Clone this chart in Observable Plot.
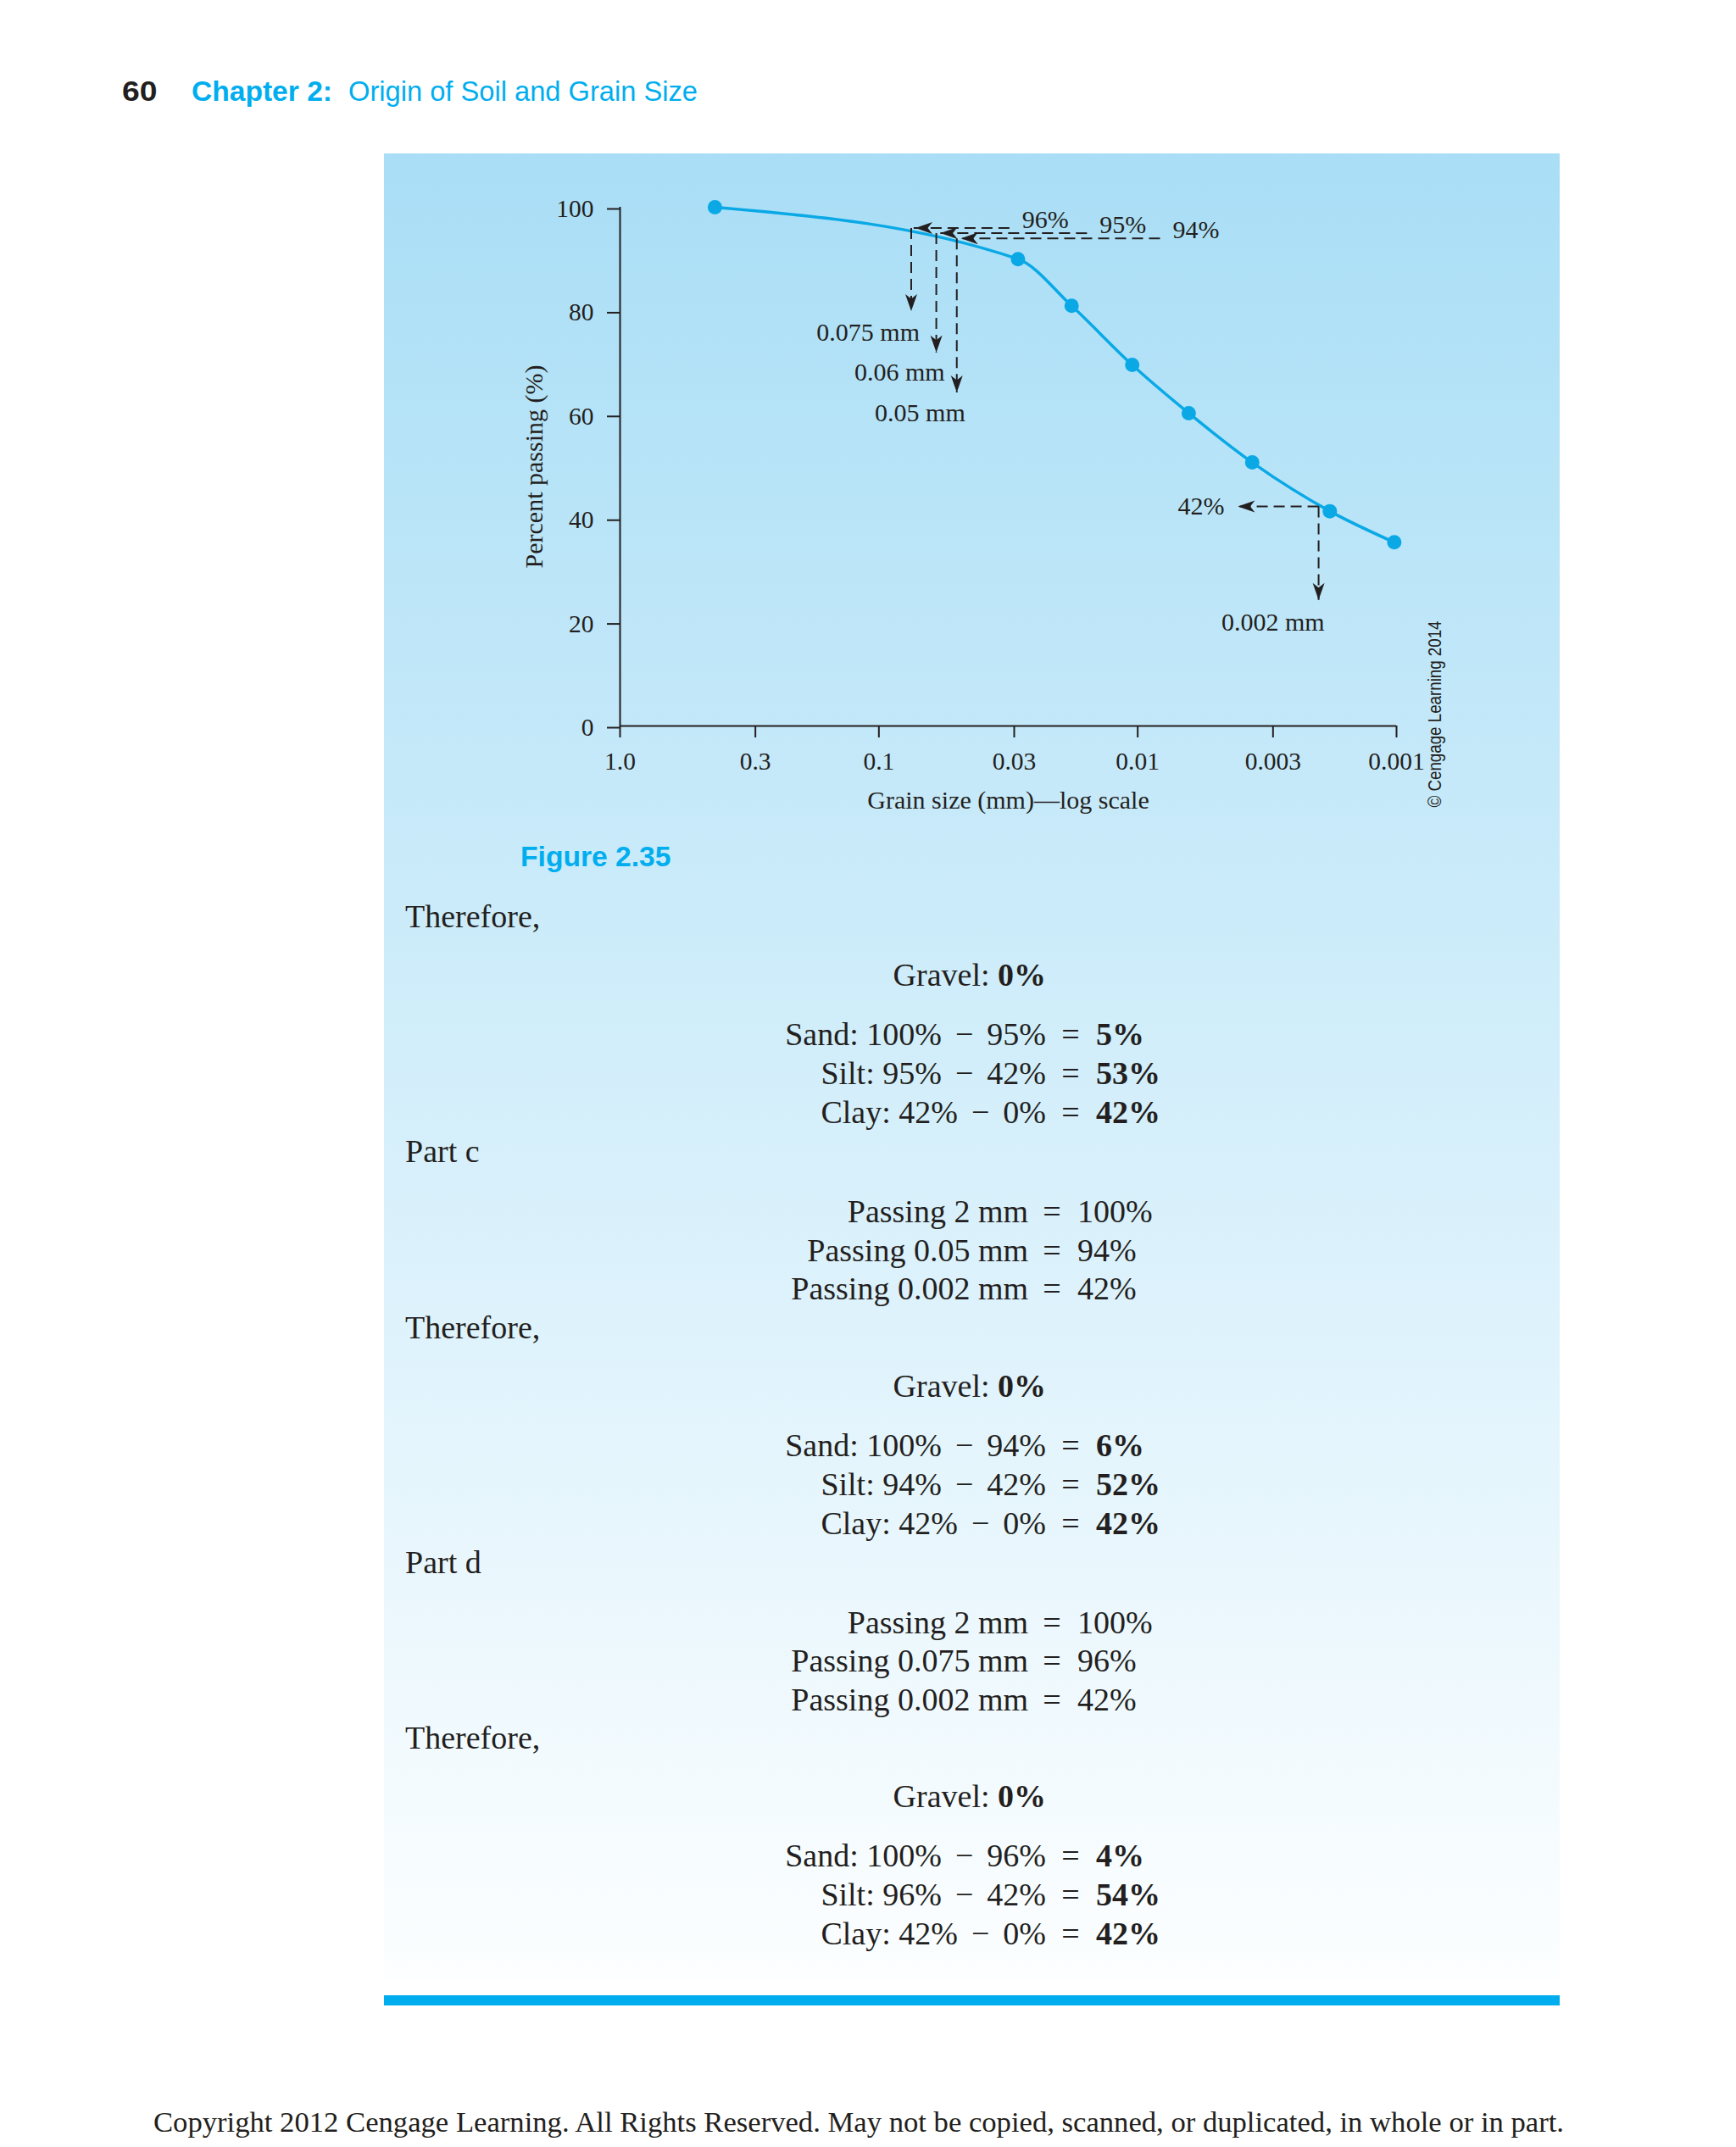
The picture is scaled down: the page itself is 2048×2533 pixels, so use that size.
<!DOCTYPE html>
<html><head><meta charset="utf-8">
<script src="https://cdn.jsdelivr.net/npm/d3@7"></script>
<script src="https://cdn.jsdelivr.net/npm/@observablehq/plot@0.6"></script>
<style>
html,body{margin:0;padding:0;background:#fff;}
body{width:2048px;height:2533px;position:relative;overflow:hidden;font-family:"Liberation Serif","Times New Roman",serif;color:#231f20;}
#panel{position:absolute;left:453px;top:181px;width:1387px;height:2154px;background:linear-gradient(to bottom,#a9def6 0%,#fcfeff 100%);}
#bar{position:absolute;left:453px;top:2354px;width:1387px;height:12px;background:#00aeef;}
#chart{position:absolute;left:453px;top:181px;}
.t{position:absolute;white-space:nowrap;line-height:1;}
.sans{font-family:"Liberation Sans",Arial,"Helvetica",sans-serif;}
.body{font-size:38px;}
.mi{margin:0 16px;}
b{font-weight:bold;}
</style></head><body>
<div id="panel"></div><div id="bar"></div><div id="chart"></div>
<script>
// ---------- chart data ----------
const grainSize      = [0.43, 0.029, 0.018, 0.0105, 0.00635, 0.00361, 0.00181, 0.00102]; // mm
const percentPassing = [100, 90, 81, 69.6, 60.3, 50.8, 41.4, 35.4];                      // %
const xTicks      = [1, 0.3, 0.1, 0.03, 0.01, 0.003, 0.001];
const xTickLabels = ["1.0", "0.3", "0.1", "0.03", "0.01", "0.003", "0.001"];
const yTicks      = [0, 20, 40, 60, 80, 100];

// read-off guides (dashed arrows)
const guideSizes       = [0.075, 0.06, 0.05];
const guideSizeLabels  = ["0.075 mm", "0.06 mm", "0.05 mm"];
const guidePercents    = [96, 95, 94];
const guidePctLabels   = ["96%", "95%", "94%"];
const guideRightEnds   = [0.0313, 0.0157, 0.0082];
const guideDropTo      = [80, 72, 64.3];
const guideLabelLevels = [74.2, 66.6, 58.8];

const clayPercent = 42.3, clayPctLabel = "42%";
const claySize = 0.002, claySizeLabel = "0.002 mm";
const clayArrowTip = 0.0041, clayDropTo = 24.3, clayLabelLevel = 18.4;

const xLabel = "Grain size (mm)\u2014log scale";
const yLabel = "Percent passing (%)";
const credit = "\u00a9 Cengage Learning 2014";

// ---------- build chart ----------
const ink = "#231f20", cyan = "#0aa9e6";
const curve = grainSize.map((g, i) => ({size: g, pct: percentPassing[i]}));
const guides = guideSizes.map((s, i) => ({
  size: s, pct: guidePercents[i], right: guideRightEnds[i], drop: guideDropTo[i],
  level: guideLabelLevels[i], sizeLabel: guideSizeLabels[i], pctLabel: guidePctLabels[i]
}));
const clay = [{size: claySize, pct: clayPercent, tip: clayArrowTip, drop: clayDropTo,
  level: clayLabelLevel, sizeLabel: claySizeLabel, pctLabel: clayPctLabel}];

function arrowSymbol(angle) {
  const c = Math.cos(angle), s = Math.sin(angle);
  const pts = [[0, 0], [-20, -7], [-14.5, 0], [-20, 7]];
  return {draw(ctx, size) {
    const k = Math.sqrt(size / Math.PI) / 10;
    pts.forEach(([x, y], i) => {
      const X = (x * c - y * s) * k, Y = (x * s + y * c) * k;
      i ? ctx.lineTo(X, Y) : ctx.moveTo(X, Y);
    });
    ctx.closePath();
  }};
}
const arrowLeft = arrowSymbol(Math.PI), arrowDown = arrowSymbol(Math.PI / 2);
const dash = "13,7";

const chart = Plot.plot({
  width: 1387, height: 820,
  marginLeft: 278, marginRight: 193, marginTop: 63, marginBottom: 145,
  style: {background: "transparent", fontFamily: "Liberation Serif, Times New Roman, serif", fontSize: "29.5px", color: ink, overflow: "visible"},
  x: {type: "log", domain: [1, 0.001], axis: null},
  y: {domain: [0, 100], axis: null},
  marks: [
    Plot.ruleY([0], {stroke: ink, strokeWidth: 2}),
    Plot.ruleX([1], {stroke: ink, strokeWidth: 2}),
    Plot.axisX(xTicks, {tickSize: 14, tickPadding: 17, strokeWidth: 2, label: null,
      tickFormat: d => xTickLabels[xTicks.indexOf(d)]}),
    Plot.axisY(yTicks, {tickSize: 15, tickPadding: 16, strokeWidth: 2, label: null, dy: 2}),
    Plot.text([xLabel], {frameAnchor: "bottom", dy: 97, lineAnchor: "bottom", fontSize: 30, fill: ink}),
    Plot.text([yLabel], {frameAnchor: "left", rotate: -90, dx: -92, textAnchor: "middle", lineAnchor: "bottom", fontSize: 30, fill: ink}),
    Plot.text([credit], {frameAnchor: "bottom-right", rotate: -90, dx: 52, dy: -14, textAnchor: "middle", lineAnchor: "bottom",
      fontFamily: "Liberation Sans, Arial, sans-serif", fontSize: 22, fill: ink}),
    Plot.line(curve, {x: "size", y: "pct", curve: "monotone-x", stroke: cyan, strokeWidth: 3.5}),
    Plot.dot(curve, {x: "size", y: "pct", r: 8.5, fill: cyan, stroke: null}),
    // guides at 0.075 / 0.06 / 0.05 mm
    Plot.link(guides, {x1: "right", y1: "pct", x2: "size", y2: "pct", stroke: ink, strokeWidth: 2, strokeDasharray: dash}),
    Plot.link(guides, {x1: "size", y1: "pct", x2: "size", y2: "drop", stroke: ink, strokeWidth: 2, strokeDasharray: dash}),
    Plot.dot(guides, {x: "size", y: "pct", symbol: arrowLeft, r: 10, fill: ink, stroke: null, dx: 5}),
    Plot.dot(guides, {x: "size", y: "drop", symbol: arrowDown, r: 10, fill: ink, stroke: null}),
    Plot.text(guides, {x: "right", y: "pct", text: "pctLabel", textAnchor: "start", dx: 15, lineAnchor: "bottom", fontSize: 30, fill: ink}),
    Plot.text(guides, {x: "size", y: "level", text: "sizeLabel", textAnchor: "end", dx: 10, lineAnchor: "bottom", fontSize: 30, fill: ink}),
    // guide at 0.002 mm
    Plot.link(clay, {x1: "size", y1: "pct", x2: "tip", y2: "pct", stroke: ink, strokeWidth: 2, strokeDasharray: dash}),
    Plot.link(clay, {x1: "size", y1: "pct", x2: "size", y2: "drop", stroke: ink, strokeWidth: 2, strokeDasharray: dash}),
    Plot.dot(clay, {x: "tip", y: "pct", symbol: arrowLeft, r: 10, fill: ink, stroke: null}),
    Plot.dot(clay, {x: "size", y: "drop", symbol: arrowDown, r: 10, fill: ink, stroke: null}),
    Plot.text(clay, {x: "tip", y: "pct", text: "pctLabel", textAnchor: "end", dx: -16, lineAnchor: "middle", fontSize: 30, fill: ink}),
    Plot.text(clay, {x: "size", y: "level", text: "sizeLabel", textAnchor: "end", dx: 7, lineAnchor: "bottom", fontSize: 30, fill: ink})
  ]
});
document.getElementById("chart").appendChild(chart);
chart.querySelectorAll("text").forEach(t => {
  if (t.textContent === credit) { t.setAttribute("textLength", 220); t.setAttribute("lengthAdjust", "spacingAndGlyphs"); }
});

// ---------- page text ----------
function baselineOffset(el) {
  const probe = document.createElement("span");
  probe.style.cssText = "display:inline-block;width:0;height:0;";
  el.appendChild(probe);
  const r = el.getBoundingClientRect();
  const b = probe.getBoundingClientRect().top - r.top;
  probe.remove();
  return {b, w: r.width};
}
function place(html, cls, x, baseline, anchor) {
  const el = document.createElement("div");
  el.className = "t " + (cls || "");
  el.innerHTML = html;
  el.style.left = "0px"; el.style.top = "0px";
  document.body.appendChild(el);
  const {b, w} = baselineOffset(el);
  const left = anchor === "end" ? x - w : anchor === "middle" ? x - w / 2 : x;
  el.style.left = left + "px";
  el.style.top = (baseline - b) + "px";
  return el;
}
function fitted(text, cls, x, bl, w, css) {
  const el = document.createElement("div");
  el.className = "t " + (cls || "");
  el.style.cssText = css;
  el.textContent = text;
  el.style.left = "0px"; el.style.top = "0px";
  document.body.appendChild(el);
  const m = baselineOffset(el);
  el.style.transformOrigin = "0 0"; el.style.transform = `scaleX(${w / m.w})`;
  el.style.left = x + "px"; el.style.top = (bl - m.b) + "px";
}

// header, figure label and footer
fitted("60", "sans", 143.5, 119, 41.5, "font-size:34px;font-weight:bold;color:#231f20;");
fitted("Chapter 2:", "sans", 226, 119, 166, "font-size:34px;font-weight:bold;color:#00aeef;");
fitted("Origin of Soil and Grain Size", "sans", 411, 119, 412, "font-size:34px;font-weight:normal;color:#00aeef;");
fitted("Figure 2.35", "sans", 613.5, 1021.7, 177.5, "font-size:32.5px;font-weight:bold;color:#00aeef;");
fitted("Copyright 2012 Cengage Learning. All Rights Reserved. May not be copied, scanned, or duplicated, in whole or in part.",
  "", 181, 2515, 1664, "font-size:33px;color:#231f20;");

// body
const M = '<span class="mi">\u2212</span>';
function eq(leftHTML, rightHTML, bl, kind) {
  const g = kind === "pass" ? {l: 1213, e: 1241, r: 1271} : {l: 1234, e: 1263, r: 1293};
  place(leftHTML, "body", g.l, bl, "end");
  if (rightHTML !== null) {
    place("=", "body", g.e, bl, "middle");
    place(rightHTML, "body", g.r, bl, "start");
  }
}
function para(text, bl) { place(text, "body", 478, bl, "start"); }

const blockShift = [0, 484.5, 969];
const passingSizes = [null, ["2 mm", "0.05 mm", "0.002 mm"], ["2 mm", "0.075 mm", "0.002 mm"]];
const passingValues = [null, ["100%", "94%", "42%"], ["100%", "96%", "42%"]];
const splitRows = [
  [["Sand: 100%", "95%", "5%"], ["Silt: 95%", "42%", "53%"], ["Clay: 42%", "0%", "42%"]],
  [["Sand: 100%", "94%", "6%"], ["Silt: 94%", "42%", "52%"], ["Clay: 42%", "0%", "42%"]],
  [["Sand: 100%", "96%", "4%"], ["Silt: 96%", "42%", "54%"], ["Clay: 42%", "0%", "42%"]]
];
const partNames = [null, "Part c", "Part d"];

blockShift.forEach((s, k) => {
  if (partNames[k]) {
    para(partNames[k], 1371 + s - 484.5);
    passingSizes[k].forEach((ps, i) => eq("Passing " + ps, passingValues[k][i], 1442 - 484.5 + s + i * 45.5, "pass"));
  }
  para("Therefore,", 1094 + s);
  eq("Gravel: <b>0%</b>", null, 1163 + s, "frac");
  splitRows[k].forEach((row, i) => eq(row[0] + M + row[1], "<b>" + row[2] + "</b>", 1233 + s + i * 46, "frac"));
});
</script>
</body></html>
